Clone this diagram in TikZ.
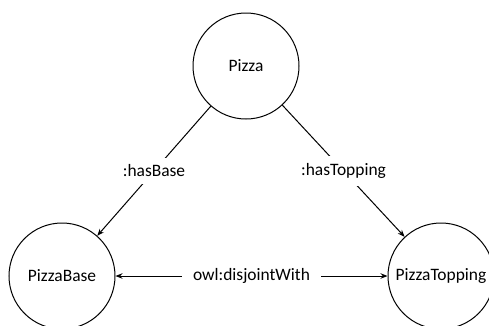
\documentclass[tikz,border=0pt]{standalone}
\usepackage{fontspec}
\setmainfont{Carlito}
\usetikzlibrary{arrows.meta,positioning}

\begin{document}
\begin{tikzpicture}[x=1bp,y=-1bp,
  cls/.style={draw,circle,line width=1bp,minimum size=106bp,inner sep=0pt,font=\fontsize{17.5}{20}\selectfont},
  prop/.style={fill=white,inner xsep=11bp,inner ysep=7bp,font=\fontsize{17.5}{20}\selectfont},
  rel/.style={-{Stealth[length=7bp,width=5.5bp]},line width=1bp}]
  \useasboundingbox (0,0) rectangle (489,325);
  % Classes
  \node[cls] (pizza) at (246,66) {Pizza};
  \node[cls] (base) at (62,276) {PizzaBase};
  \node[cls] (topping) at (441,276) {PizzaTopping};
  % Properties
  \draw[rel] (pizza) -- node[prop] {:hasBase} (base);
  \draw[rel] (pizza) -- node[prop] {:hasTopping} (topping);
  \draw[rel,{Stealth[length=7bp,width=5.5bp]}-{Stealth[length=7bp,width=5.5bp]}] (base) -- node[prop] {owl:disjointWith} (topping);
\end{tikzpicture}
\end{document}
